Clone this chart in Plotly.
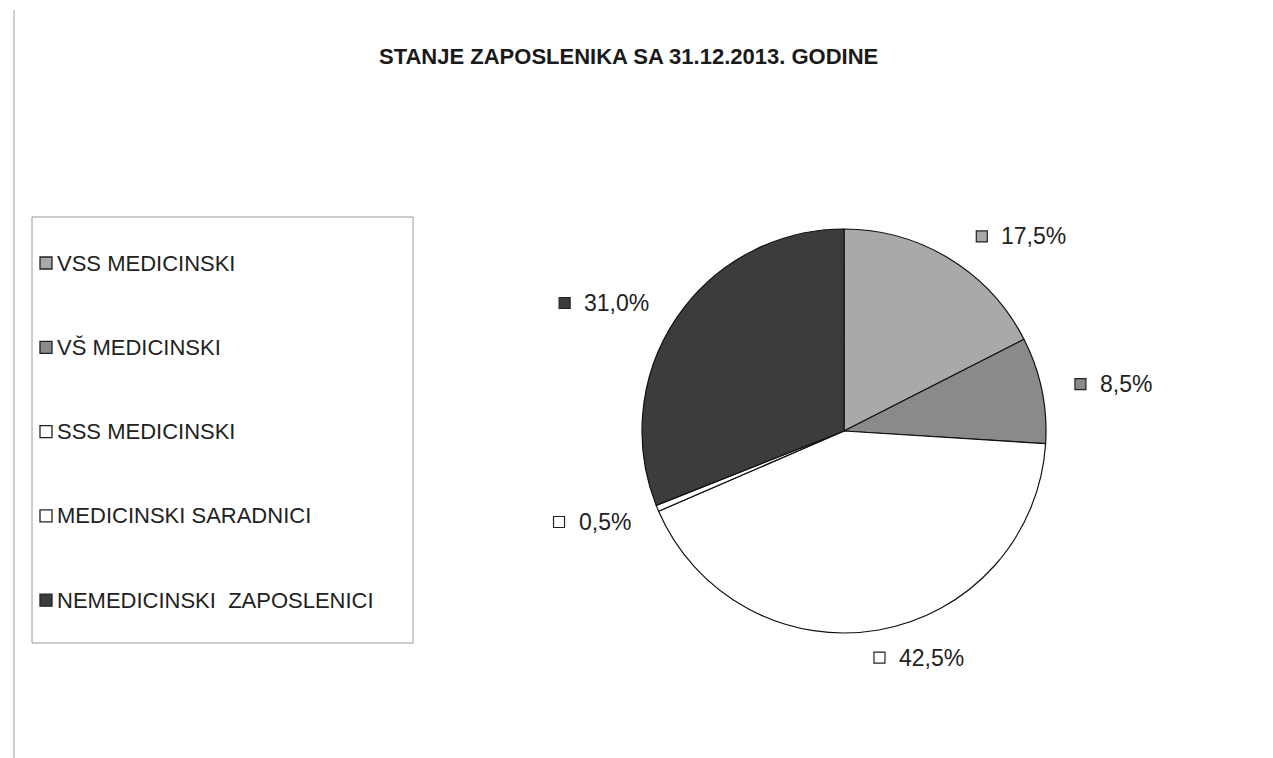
import math
import plotly.graph_objects as go

# ---------------- data ----------------
categories = ["VSS MEDICINSKI", "VŠ MEDICINSKI", "SSS MEDICINSKI",
              "MEDICINSKI SARADNICI", "NEMEDICINSKI  ZAPOSLENICI"]
shares = [17.5, 8.5, 42.5, 0.5, 31.0]
label_texts = ["17,5%", "8,5%", "42,5%", "0,5%", "31,0%"]
title_text = "STANJE ZAPOSLENIKA SA 31.12.2013. GODINE"

# ---------------- style ----------------
W, H = 1273, 758
OFF = 8                              # page body margin in the browser
colors = ["#a9a9a9", "#8a8a8a", "#ffffff", "#ffffff", "#3c3c3c"]
FONT = "Liberation Sans, Arial, sans-serif"
CX, CY, R = 844, 431, 202            # pie centre / radius in pixels
LABEL_NUDGE = [10.7, 1.8, -8.2, 2.7, -6.2]     # degrees (Excel best-fit placement)
LABEL_DIST = [1.30, 1.35, 1.18, 1.33, 1.35]    # in radii
LBL_SIZE = 23
LEG_SIZE = 22


def px(x):
    return (x - OFF) / W


def py(y):
    return 1 - (y - OFF) / H


def text_width(s, size):
    w = 0.0
    for ch in s:
        if ch.isdigit():
            w += 0.556
        elif ch == ",":
            w += 0.278
        elif ch == "%":
            w += 0.889
        else:
            w += 0.6
    return w * size


fig = go.Figure()
fig.add_trace(go.Pie(
    labels=categories,
    values=shares,
    sort=False,
    direction="clockwise",
    rotation=0,
    marker=dict(colors=colors, line=dict(color="#111111", width=1.2)),
    textinfo="none",
    hoverinfo="label+percent",
    showlegend=False,
    domain=dict(x=[px(CX - R), px(CX + R)], y=[py(CY + R), py(CY - R)]),
))

annotations = []
shapes = []

# data labels computed from cumulative shares
total = sum(shares)
cum = 0.0
for i, v in enumerate(shares):
    mid = (cum + v / 2) / total * 360 + LABEL_NUDGE[i]
    cum += v
    d = R * LABEL_DIST[i]
    gx = CX + d * math.sin(math.radians(mid))
    gy = CY - d * math.cos(math.radians(mid))
    tw = text_width(label_texts[i], LBL_SIZE)
    gw = 11 + 12 + tw
    left = gx - gw / 2
    shapes.append(dict(type="rect", xref="paper", yref="paper",
                       x0=px(left), x1=px(left + 11), y0=py(gy + 5.5), y1=py(gy - 5.5),
                       fillcolor=colors[i], line=dict(color="#222222", width=1.2)))
    annotations.append(dict(
        x=px(left + 23), y=py(gy), xref="paper", yref="paper",
        text=label_texts[i], showarrow=False, xanchor="left", yanchor="middle",
        font=dict(family=FONT, size=LBL_SIZE, color="#222222")))

# custom legend
LEG_X0, LEG_Y0, LEG_X1, LEG_Y1 = 32, 217, 413, 643
shapes.append(dict(type="rect", xref="paper", yref="paper",
                   x0=px(LEG_X0), x1=px(LEG_X1), y0=py(LEG_Y1), y1=py(LEG_Y0),
                   fillcolor="rgba(0,0,0,0)", line=dict(color="#9a9a9a", width=1)))
leg_top, leg_step = 263, 84.3
for i, name in enumerate(categories):
    yy = leg_top + i * leg_step
    shapes.append(dict(type="rect", xref="paper", yref="paper",
                       x0=px(40), x1=px(52), y0=py(yy + 6), y1=py(yy - 6),
                       fillcolor=colors[i], line=dict(color="#222222", width=1.3)))
    annotations.append(dict(
        x=px(55), y=py(yy), xref="paper", yref="paper", text=name,
        showarrow=False, xanchor="left", yanchor="middle",
        font=dict(family=FONT, size=LEG_SIZE, color="#222222")))

# page border line (scan)
shapes.append(dict(type="line", xref="paper", yref="paper",
                   x0=px(14), x1=px(14), y0=py(10), y1=py(758),
                   line=dict(color="#a0a0a0", width=1)))

# title
annotations.append(dict(
    x=px(628), y=py(57), xref="paper", yref="paper",
    text="<b>" + title_text + "</b>", showarrow=False,
    xanchor="center", yanchor="middle",
    font=dict(family=FONT, size=22, color="#1a1a1a")))

fig.update_layout(
    width=W, height=H, autosize=False,
    margin=dict(l=0, r=0, t=0, b=0),
    paper_bgcolor="white", plot_bgcolor="white",
    annotations=annotations, shapes=shapes,
)

fig.write_html("out.html")
